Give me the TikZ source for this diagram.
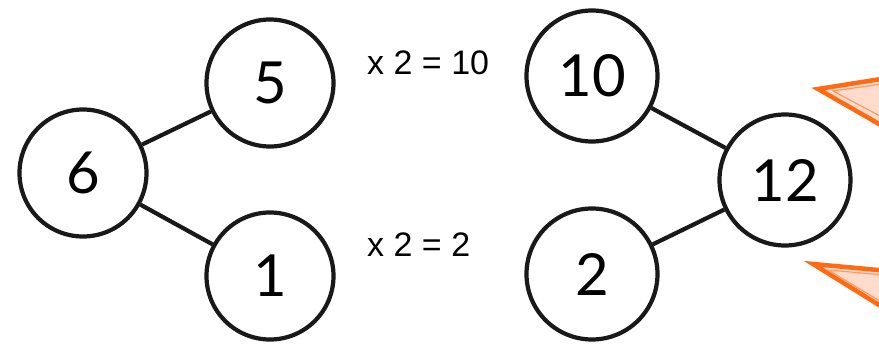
\documentclass[tikz,border=0pt]{standalone}
\usepackage{fontspec}
\setmainfont{Lato}
\newfontfamily\labelfont{Liberation Sans}
\definecolor{tri}{HTML}{FF6A13}
\definecolor{trifill}{HTML}{FFDCCB}
\definecolor{triin}{HTML}{FF9A66}
\begin{document}
\begin{tikzpicture}[x=1pt,y=-1pt,
  num/.style={circle,draw=black!90,line width=4.2pt,inner sep=0pt,minimum size=#1,font=\fontsize{58}{62}\selectfont},
  num/.default=127pt,
  link/.style={draw=black!90,line width=4.2pt},
  eq/.style={font=\labelfont\fontsize{34}{38}\selectfont,anchor=west,inner sep=0pt},
  warn/.style={fill=trifill,draw=tri,line width=4.5pt,line join=miter},
  warnin/.style={draw=triin,line width=1.2pt}]
\useasboundingbox (0,0) rectangle (879,344);
\begin{scope}
\clip (0,0) rectangle (879,344);
\node[num] (n6) at (83,173) {6};
\node[num] (n5) at (270,83) {5};
\node[num] (n1) at (270,276) {1};
\node[num=131pt] (n10) at (592,76) {10};
\node[num=131pt] (n12) at (785,180) {12};
\node[num=131pt] (n2) at (592,274) {2};
\draw[link] (n6) -- (n5);
\draw[link] (n6) -- (n1);
\draw[link] (n10) -- (n12);
\draw[link] (n2) -- (n12);
\node[eq] (e1) at (367,63) {x 2 = 10};
\node[eq] (e2) at (367,245) {x 2 = 2};
\draw[warn] (818,89) -- (900,76) -- (900,136) -- cycle;
\draw[warnin] (833,91) -- (895,82) -- (895,124) -- cycle;
\draw[warn] (813,264) -- (900,272) -- (900,318) -- cycle;
\draw[warnin] (828,270) -- (895,276) -- (895,310) -- cycle;
\end{scope}
\end{tikzpicture}
\end{document}
